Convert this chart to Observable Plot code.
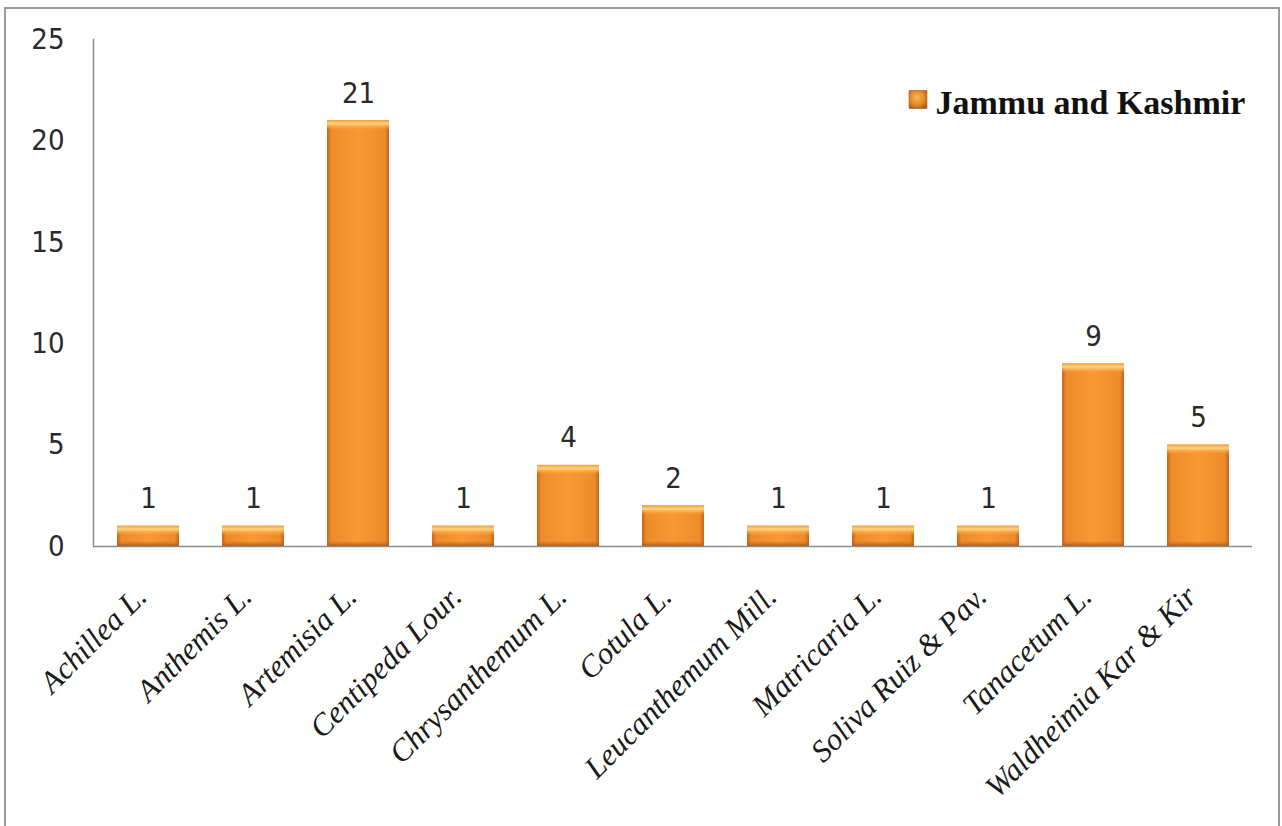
<!DOCTYPE html>
<html><head><meta charset="utf-8">
<script src="https://cdn.jsdelivr.net/npm/d3@7"></script>
<script src="https://cdn.jsdelivr.net/npm/@observablehq/plot@0.6"></script>
<style>
html,body{margin:0;padding:0;background:#fff;}
#wrap{position:relative;width:1282px;height:826px;overflow:hidden;}
#frame{position:absolute;left:4px;top:7px;width:1276px;height:840px;box-sizing:border-box;border:2px solid #9a9a9a;}
#chart{position:absolute;left:0;top:0;}
</style></head><body>
<div id="wrap"><div id="frame"></div><div id="chart"></div></div>
<script>
const categories = ["Achillea L.", "Anthemis L.", "Artemisia L.", "Centipeda Lour.", "Chrysanthemum L.", "Cotula L.", "Leucanthemum Mill.", "Matricaria L.", "Soliva Ruiz & Pav.", "Tanacetum L.", "Waldheimia Kar & Kir"];
const values = [1, 1, 21, 1, 4, 2, 1, 1, 1, 9, 5];
const yTicks = [0, 5, 10, 15, 20, 25];
const seriesName = "Jammu and Kashmir";

const data = categories.map((c, i) => ({genus: c, count: values[i]}));
const numFont = "'DejaVu Sans Condensed', 'DejaVu Sans', sans-serif";
const serif = "'Liberation Serif', 'Times New Roman', serif";

const plot = Plot.plot({
  width: 1282, height: 826,
  marginLeft: 93, marginRight: 30, marginTop: 39, marginBottom: 280,
  x: {domain: categories, paddingInner: 0.41, paddingOuter: 0.205, axis: null},
  y: {domain: [0, 25], axis: null},
  marks: [
    Plot.axisY({ticks: yTicks, tickSize: 0, tickPadding: 29, fontSize: 29, fontFamily: numFont, fill: "#2a2a2a", label: null}),
    Plot.frame({anchor: "left", stroke: "#8c8c8c", strokeWidth: 1.5}),
    Plot.barY(data, {x: "genus", y: "count", fill: "url(#gBody)"}),
    Plot.barY(data, {x: "genus", y1: "count", y2: "count", insetBottom: -10, fill: "url(#gTop)"}),
    Plot.barY(data, {x: "genus", y1: 0, y2: 0, insetTop: -5, fill: "url(#gBot)"}),
    Plot.ruleY([0], {stroke: "#8c8c8c", strokeWidth: 1.5}),
    Plot.text(data, {x: "genus", y: "count", text: d => String(d.count), dy: -18, lineAnchor: "bottom", fontSize: 29, fontFamily: numFont, fill: "#2a2a2a"}),
    Plot.text(data, {x: "genus", text: "genus", frameAnchor: "bottom", rotate: -45, textAnchor: "end", lineAnchor: "middle", dx: -7, dy: 45, fontSize: 31, fontStyle: "italic", fontFamily: serif, fill: "#1a1a1a"}),
    Plot.dot([seriesName], {frameAnchor: "top-right", symbol: "square", r: 10, dx: -334.5, dy: 60, fill: "url(#gSq)", stroke: "#a85a18", strokeWidth: 0.8}),
    Plot.text([seriesName], {frameAnchor: "top-right", text: d => d, textAnchor: "start", lineAnchor: "bottom", dx: -317, dy: 74, fontSize: 34, fontWeight: "bold", fontFamily: serif, fill: "#111"})
  ]
});

plot.insertAdjacentHTML("afterbegin", `<defs>
<linearGradient id="gBody" x1="0" x2="1" y1="0" y2="0">
<stop offset="0" stop-color="#c4661c"/><stop offset="0.07" stop-color="#ee8b2a"/>
<stop offset="0.5" stop-color="#f99832"/><stop offset="0.93" stop-color="#ee8b2a"/><stop offset="1" stop-color="#c4661c"/>
</linearGradient>
<linearGradient id="gTop" x1="0" x2="0" y1="0" y2="1">
<stop offset="0" stop-color="#f0a040"/><stop offset="0.35" stop-color="#ffd480"/><stop offset="1" stop-color="#fa9a36" stop-opacity="0"/>
</linearGradient>
<linearGradient id="gBot" x1="0" x2="0" y1="0" y2="1">
<stop offset="0" stop-color="#c06a22" stop-opacity="0"/><stop offset="1" stop-color="#a85c20"/>
</linearGradient>
<radialGradient id="gSq" cx="0.45" cy="0.4" r="0.7">
<stop offset="0" stop-color="#fbb65a"/><stop offset="0.6" stop-color="#e48726"/><stop offset="1" stop-color="#a8561a"/>
</radialGradient>
</defs>`);

document.getElementById("chart").appendChild(plot);
</script>
</body></html>
